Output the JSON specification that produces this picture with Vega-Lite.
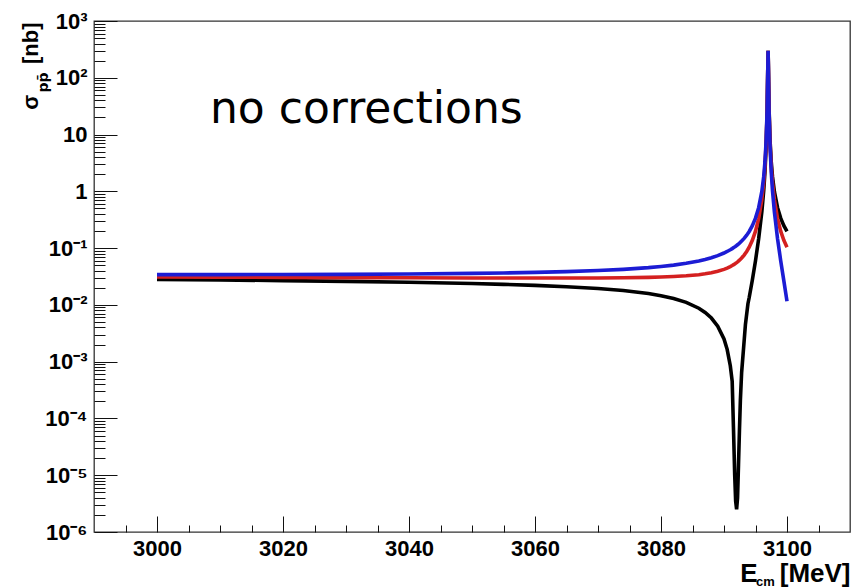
{
  "$schema": "https://vega.github.io/schema/vega-lite/v6.json",
  "width": 756,
  "height": 511,
  "autosize": {"type": "none"},
  "padding": {"left": 94, "top": 21, "right": 2, "bottom": 55},
  "background": "white",
  "config": {"view": {"stroke": "#333333", "strokeWidth": 1.3}},
  "datasets": {
    "black": [
      {"E": 3000, "sigma": 0.02807}, {"E": 3010, "sigma": 0.02746}, {"E": 3020, "sigma": 0.02678},
      {"E": 3030, "sigma": 0.02597}, {"E": 3040, "sigma": 0.02501}, {"E": 3050, "sigma": 0.02377},
      {"E": 3055, "sigma": 0.023}, {"E": 3060, "sigma": 0.02207}, {"E": 3065, "sigma": 0.02092},
      {"E": 3070, "sigma": 0.01943}, {"E": 3074, "sigma": 0.01788}, {"E": 3078, "sigma": 0.01583},
      {"E": 3080, "sigma": 0.01453}, {"E": 3082, "sigma": 0.01296}, {"E": 3084, "sigma": 0.01107},
      {"E": 3086, "sigma": 0.00874}, {"E": 3087, "sigma": 0.00737}, {"E": 3088, "sigma": 0.00587},
      {"E": 3089, "sigma": 0.00423}, {"E": 3090, "sigma": 0.00252}, {"E": 3090.5, "sigma": 0.00165},
      {"E": 3091, "sigma": 0.00085}, {"E": 3091.3, "sigma": 0.00045}, {"E": 3091.5, "sigma": 0.00007},
      {"E": 3091.7, "sigma": 0.00001}, {"E": 3091.85, "sigma": 0.0000035}, {"E": 3092.0, "sigma": 0.0000025},
      {"E": 3092.15, "sigma": 0.000004}, {"E": 3092.3, "sigma": 0.000015}, {"E": 3092.45, "sigma": 0.00006},
      {"E": 3092.6, "sigma": 0.00021}, {"E": 3092.8, "sigma": 0.00065}, {"E": 3093.1, "sigma": 0.0017},
      {"E": 3093.4, "sigma": 0.0045}, {"E": 3093.8, "sigma": 0.0105}, {"E": 3094, "sigma": 0.0135},
      {"E": 3094.5, "sigma": 0.0275}, {"E": 3095, "sigma": 0.06},
      {"E": 3095.5, "sigma": 0.14649}, {"E": 3096, "sigma": 0.43245}, {"E": 3096.3, "sigma": 1.0203},
      {"E": 3096.5, "sigma": 2.1843}, {"E": 3096.7, "sigma": 6.5239}, {"E": 3096.85, "sigma": 25.901},
      {"E": 3096.95, "sigma": 140.09}, {"E": 3097.0, "sigma": 300.07}, {"E": 3097.05, "sigma": 145.9},
      {"E": 3097.15, "sigma": 29.26}, {"E": 3097.3, "sigma": 8.328}, {"E": 3097.5, "sigma": 3.284},
      {"E": 3097.7, "sigma": 1.809}, {"E": 3098, "sigma": 0.986}, {"E": 3098.5, "sigma": 0.516},
      {"E": 3099, "sigma": 0.3372}, {"E": 3099.5, "sigma": 0.2483}, {"E": 3100, "sigma": 0.1964}
    ],
    "red": [
      {"E": 3000, "sigma": 0.03107}, {"E": 3010, "sigma": 0.03079}, {"E": 3020, "sigma": 0.03052},
      {"E": 3030, "sigma": 0.03025}, {"E": 3040, "sigma": 0.03001}, {"E": 3050, "sigma": 0.02981},
      {"E": 3055, "sigma": 0.02974}, {"E": 3060, "sigma": 0.0297}, {"E": 3065, "sigma": 0.02972},
      {"E": 3070, "sigma": 0.02984}, {"E": 3074, "sigma": 0.03007}, {"E": 3078, "sigma": 0.03055},
      {"E": 3080, "sigma": 0.03096}, {"E": 3082, "sigma": 0.03157}, {"E": 3084, "sigma": 0.03252},
      {"E": 3086, "sigma": 0.03406}, {"E": 3087, "sigma": 0.03522}, {"E": 3088, "sigma": 0.03679},
      {"E": 3089, "sigma": 0.039}, {"E": 3090, "sigma": 0.04223}, {"E": 3090.5, "sigma": 0.04444},
      {"E": 3091, "sigma": 0.04723}, {"E": 3091.3, "sigma": 0.04927}, {"E": 3091.6, "sigma": 0.05166},
      {"E": 3091.8, "sigma": 0.05349}, {"E": 3092.0, "sigma": 0.05555}, {"E": 3092.1, "sigma": 0.05667},
      {"E": 3092.2, "sigma": 0.05787}, {"E": 3092.5, "sigma": 0.06195}, {"E": 3092.8, "sigma": 0.06693},
      {"E": 3093.2, "sigma": 0.07547}, {"E": 3093.6, "sigma": 0.08724}, {"E": 3094, "sigma": 0.10402},
      {"E": 3094.5, "sigma": 0.13741}, {"E": 3095, "sigma": 0.19873}, {"E": 3095.5, "sigma": 0.33124},
      {"E": 3096, "sigma": 0.70921}, {"E": 3096.3, "sigma": 1.4148}, {"E": 3096.5, "sigma": 2.734},
      {"E": 3096.7, "sigma": 7.4257}, {"E": 3096.85, "sigma": 27.58}, {"E": 3096.95, "sigma": 142.98},
      {"E": 3097.0, "sigma": 300.07}, {"E": 3097.05, "sigma": 142.98}, {"E": 3097.15, "sigma": 27.58},
      {"E": 3097.3, "sigma": 7.426}, {"E": 3097.5, "sigma": 2.734}, {"E": 3097.7, "sigma": 1.415},
      {"E": 3098, "sigma": 0.7092}, {"E": 3098.5, "sigma": 0.3312}, {"E": 3099, "sigma": 0.1987},
      {"E": 3099.5, "sigma": 0.1374}, {"E": 3100, "sigma": 0.104}
    ],
    "blue": [
      {"E": 3000, "sigma": 0.03407}, {"E": 3010, "sigma": 0.03412}, {"E": 3020, "sigma": 0.03426},
      {"E": 3030, "sigma": 0.03453}, {"E": 3040, "sigma": 0.03502}, {"E": 3050, "sigma": 0.03585},
      {"E": 3055, "sigma": 0.03648}, {"E": 3060, "sigma": 0.03733}, {"E": 3065, "sigma": 0.03852},
      {"E": 3070, "sigma": 0.04024}, {"E": 3074, "sigma": 0.04226}, {"E": 3078, "sigma": 0.04527},
      {"E": 3080, "sigma": 0.0474}, {"E": 3082, "sigma": 0.05019}, {"E": 3084, "sigma": 0.05397},
      {"E": 3086, "sigma": 0.05939}, {"E": 3087, "sigma": 0.06306}, {"E": 3088, "sigma": 0.0677},
      {"E": 3089, "sigma": 0.07377}, {"E": 3090, "sigma": 0.08195}, {"E": 3090.5, "sigma": 0.0872},
      {"E": 3091, "sigma": 0.09354}, {"E": 3091.3, "sigma": 0.09801}, {"E": 3091.6, "sigma": 0.10309},
      {"E": 3091.8, "sigma": 0.1069}, {"E": 3092.0, "sigma": 0.11109}, {"E": 3092.1, "sigma": 0.11335},
      {"E": 3092.2, "sigma": 0.11574}, {"E": 3092.5, "sigma": 0.12366}, {"E": 3092.8, "sigma": 0.13306},
      {"E": 3093.2, "sigma": 0.1485}, {"E": 3093.6, "sigma": 0.16887}, {"E": 3094, "sigma": 0.19652},
      {"E": 3094.5, "sigma": 0.2484}, {"E": 3095, "sigma": 0.3373}, {"E": 3095.5, "sigma": 0.51604},
      {"E": 3096, "sigma": 0.98605}, {"E": 3096.3, "sigma": 1.8093}, {"E": 3096.5, "sigma": 3.284},
      {"E": 3096.7, "sigma": 8.3279}, {"E": 3096.85, "sigma": 29.261}, {"E": 3096.95, "sigma": 145.9},
      {"E": 3097.0, "sigma": 300.07}, {"E": 3097.05, "sigma": 140.09}, {"E": 3097.15, "sigma": 25.9},
      {"E": 3097.3, "sigma": 6.524}, {"E": 3097.5, "sigma": 2.184}, {"E": 3097.7, "sigma": 1.02},
      {"E": 3098, "sigma": 0.4325}, {"E": 3098.5, "sigma": 0.1465}, {"E": 3099, "sigma": 0.0601},
      {"E": 3099.5, "sigma": 0.02647}, {"E": 3100, "sigma": 0.01158}
    ],
    "note": [{"label": "no corrections"}]
  },
  "layer": [
    {
      "data": {"name": "black"},
      "mark": {"type": "line", "color": "#000000", "strokeWidth": 3.6, "clip": true},
      "encoding": {
        "x": {
          "field": "E", "type": "quantitative",
          "scale": {"domain": [2990, 3110], "nice": false, "zero": false},
          "axis": {
            "orient": "bottom", "grid": false, "domain": false,
            "values": [3000, 3020, 3040, 3060, 3080, 3100], "format": "d",
            "tickSize": -16, "tickColor": "#111111", "tickWidth": 1,
            "labelPadding": 22, "labelFont": "Liberation Sans", "labelFontWeight": "bold",
            "labelFontSize": 22, "labelColor": "#000000", "labelFlush": false, "labelOverlap": false,
            "title": "[MeV]", "titleX": 756, "titleY": 49, "titleAngle": 0,
            "titleAlign": "right", "titleBaseline": "alphabetic", "titleFont": "Liberation Sans",
            "titleFontWeight": "bold", "titleFontSize": 26, "titleColor": "#000000"
          }
        },
        "y": {
          "field": "sigma", "type": "quantitative",
          "scale": {"type": "log", "domain": [0.000001, 1000], "nice": false},
          "axis": {
            "orient": "left", "grid": false, "domain": false,
            "values": [0.000001, 0.00001, 0.0001, 0.001, 0.01, 0.1, 1, 10, 100, 1000],
            "labelExpr": "datum.value >= 999 ? '10³' : datum.value >= 99 ? '10²' : datum.value >= 9 ? '10' : datum.value >= 0.9 ? '1' : datum.value >= 0.09 ? '10⁻¹' : datum.value >= 0.009 ? '10⁻²' : datum.value >= 0.0009 ? '10⁻³' : datum.value >= 0.00009 ? '10⁻⁴' : datum.value >= 0.000009 ? '10⁻⁵' : '10⁻⁶'",
            "tickSize": -23, "tickColor": "#111111", "tickWidth": 1,
            "labelPadding": 30, "labelFont": "Liberation Sans", "labelFontWeight": "bold",
            "labelFontSize": 22, "labelColor": "#000000", "labelFlush": false, "labelOverlap": false,
            "title": "σ\u00a0\u00a0\u00a0\u00a0\u00a0[nb]", "titleX": -57, "titleY": 1, "titleAngle": 270,
            "titleAlign": "right", "titleBaseline": "alphabetic", "titleFont": "Liberation Sans",
            "titleFontWeight": "bold", "titleFontSize": 22, "titleColor": "#000000"
          }
        }
      }
    },
    {
      "data": {"name": "red"},
      "mark": {"type": "line", "color": "#d42020", "strokeWidth": 3.6, "clip": true},
      "encoding": {
        "x": {
          "field": "E", "type": "quantitative",
          "scale": {"domain": [2990, 3110], "nice": false, "zero": false},
          "axis": {
            "orient": "bottom", "grid": false, "domain": false, "labels": false,
            "values": [2995, 3005, 3010, 3015, 3025, 3030, 3035, 3045, 3050, 3055, 3065, 3070, 3075, 3085, 3090, 3095, 3105],
            "tickSize": -7, "tickColor": "#111111", "tickWidth": 1,
            "title": "cm", "titleX": 671, "titleY": 53, "titleAngle": 0,
            "titleAlign": "center", "titleBaseline": "alphabetic", "titleFont": "Liberation Sans",
            "titleFontWeight": "bold", "titleFontSize": 13, "titleColor": "#000000"
          }
        },
        "y": {
          "field": "sigma", "type": "quantitative",
          "scale": {"type": "log", "domain": [0.000001, 1000], "nice": false},
          "axis": {
            "orient": "left", "grid": false, "domain": false, "labels": false,
            "values": [0.000002, 0.000003, 0.000004, 0.000005, 0.000006, 0.000007, 0.000008, 0.000009,
                       0.00002, 0.00003, 0.00004, 0.00005, 0.00006, 0.00007, 0.00008, 0.00009,
                       0.0002, 0.0003, 0.0004, 0.0005, 0.0006, 0.0007, 0.0008, 0.0009,
                       0.002, 0.003, 0.004, 0.005, 0.006, 0.007, 0.008, 0.009,
                       0.02, 0.03, 0.04, 0.05, 0.06, 0.07, 0.08, 0.09,
                       0.2, 0.3, 0.4, 0.5, 0.6, 0.7, 0.8, 0.9,
                       2, 3, 4, 5, 6, 7, 8, 9,
                       20, 30, 40, 50, 60, 70, 80, 90,
                       200, 300, 400, 500, 600, 700, 800, 900],
            "tickSize": -11, "tickColor": "#111111", "tickWidth": 1,
            "title": "pp\u0304", "titleX": -47, "titleY": 61, "titleAngle": 270,
            "titleAlign": "center", "titleBaseline": "alphabetic", "titleFont": "DejaVu Sans",
            "titleFontWeight": "bold", "titleFontSize": 14, "titleColor": "#000000"
          }
        }
      }
    },
    {
      "data": {"name": "blue"},
      "mark": {"type": "line", "color": "#1c1cd4", "strokeWidth": 3.6, "clip": true},
      "encoding": {
        "x": {
          "field": "E", "type": "quantitative",
          "scale": {"domain": [2990, 3110], "nice": false, "zero": false},
          "axis": {
            "orient": "bottom", "grid": false, "domain": false, "labels": false, "ticks": false,
            "title": "E", "titleX": 663, "titleY": 49, "titleAngle": 0,
            "titleAlign": "right", "titleBaseline": "alphabetic", "titleFont": "Liberation Sans",
            "titleFontWeight": "bold", "titleFontSize": 26, "titleColor": "#000000"
          }
        },
        "y": {"field": "sigma", "type": "quantitative", "scale": {"type": "log", "domain": [0.000001, 1000], "nice": false}, "axis": null}
      }
    },
    {
      "data": {"name": "note"},
      "mark": {"type": "text", "font": "DejaVu Sans", "fontSize": 44, "align": "left", "baseline": "alphabetic", "color": "#000000"},
      "encoding": {
        "x": {"datum": 3008.4, "type": "quantitative", "scale": {"domain": [2990, 3110], "nice": false, "zero": false}, "axis": null},
        "y": {"datum": 16, "type": "quantitative", "scale": {"type": "log", "domain": [0.000001, 1000], "nice": false}, "axis": null},
        "text": {"field": "label"}
      }
    }
  ],
  "resolve": {"axis": {"x": "independent", "y": "independent"}}
}
